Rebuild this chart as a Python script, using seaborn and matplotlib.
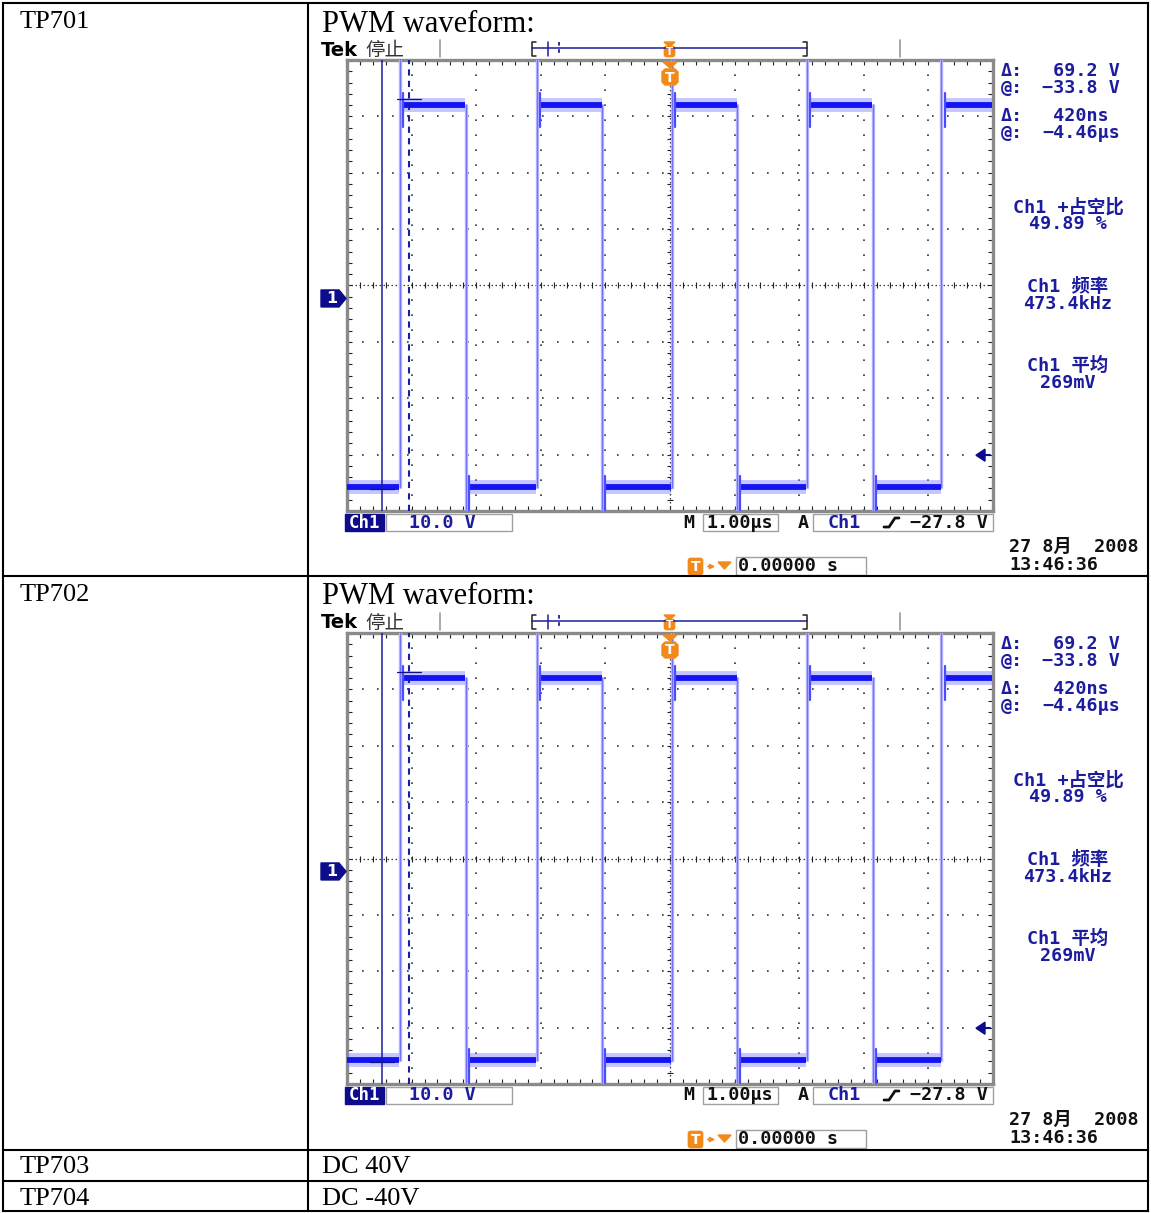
import numpy as np
import pandas as pd
import matplotlib
matplotlib.use("Agg")
import matplotlib.pyplot as plt
import matplotlib.transforms as mtransforms
from matplotlib.patches import Polygon, Rectangle, FancyBboxPatch
import seaborn as sns

W, H = 1151, 1213

# ---------------- data ----------------
row_labels = ["TP701", "TP702", "TP703", "TP704"]
row_values = ["PWM waveform:", "PWM waveform:", "DC 40V", "DC -40V"]

rise_times_us = [-4.18, -2.06, 0.03, 2.12, 4.20]
fall_times_us = [-3.16, -1.05, 1.04, 3.14]
high_level_v = 34.4
low_level_v = -33.5
rise_overshoot_v = 46.0
fall_undershoot_v = -40.0
ring_after_rise_v = [36.5, 30.5]
ring_after_fall_v = [-31.5, -37.5]

cursor_t_us = [-4.46, -4.04]
cursor_v = [-33.8, 35.4]
trigger_level_v = -27.8
trigger_t_us = 0.0
ground_v = 0.0

screen_t_us = [-5.0, 5.0]
screen_v = [-37.7, 42.3]
volts_per_div = 10.0
us_per_div = 1.0

cursor_labels = ["Δ:", "@:", "Δ:", "@:"]
cursor_values = [" 69.2 V", "−33.8 V", " 420ns", "−4.46µs"]
measure_names = ["Ch1 +占空比", "Ch1 频率", "Ch1 平均"]
measure_values = ["49.89 %", "473.4kHz", "269mV"]
ch_label = "Ch1"
scale_label = "10.0 V"
time_label = "1.00µs"
trig_level_label = "−27.8 V"
trig_pos_label = "0.00000 s"
date_label = "27 8月  2008"
clock_label = "13:46:36"
status_labels = ["Tek", "停止"]

# ---------------- style ----------------
sns.set_style("white")
plt.rcParams["font.family"] = ["DejaVu Sans", "Noto Sans CJK SC"]

NAVY = "#1c1c9e"
DARK = "#111111"
ORANGE = "#f28a1a"
BOXGRAY = "#a0a0a0"
MONO = ["DejaVu Sans Mono", "Noto Sans CJK SC"]
SERIF = ["Liberation Serif", "DejaVu Serif"]
FS = 13.2


def build_trace():
    events = sorted([(t, "rise") for t in rise_times_us] + [(t, "fall") for t in fall_times_us])
    events.append((screen_t_us[1], "end"))
    band, edge, ring = [], [], []
    seg = 0
    t_prev, level = screen_t_us[0], low_level_v
    settle = 0.05
    for t, kind in events:
        band += [(seg, t_prev, level), (seg, t - 0.01, level)]
        seg += 1
        if kind == "rise":
            edge += [(seg, t, low_level_v), (seg, t, rise_overshoot_v)]
            seg += 1
            ring += [(seg, t + settle, ring_after_rise_v[0]), (seg, t + settle, ring_after_rise_v[1])]
            seg += 1
            level = high_level_v
        elif kind == "fall":
            edge += [(seg, t, high_level_v), (seg, t, fall_undershoot_v)]
            seg += 1
            ring += [(seg, t + settle, ring_after_fall_v[0]), (seg, t + settle, ring_after_fall_v[1])]
            seg += 1
            level = low_level_v
        t_prev = t + settle
    cols = ["seg", "t", "v"]
    return (pd.DataFrame(band, columns=cols), pd.DataFrame(edge, columns=cols),
            pd.DataFrame(ring, columns=cols))


band_df, edge_df, ring_df = build_trace()

fig = plt.figure(figsize=(W / 100, H / 100), dpi=100)
ov = fig.add_axes([0, 0, 1, 1], zorder=10)
ov.set_xlim(0, W)
ov.set_ylim(H, 0)
ov.axis("off")

# ---------------- table ----------------
for y in [3, 576, 1150, 1181, 1211]:
    ov.plot([3, 1148], [y, y], color="black", lw=1.5, solid_capstyle="projecting")
for x in [3, 308, 1148]:
    ov.plot([x, x], [3, 1211], color="black", lw=1.5, solid_capstyle="projecting")

label_y = [22, 595, 1167, 1199]
value_y = [24, 597, 1167, 1199]
value_size = [22, 22, 19, 19]
for lab, val, ly, vy, vs in zip(row_labels, row_values, label_y, value_y, value_size):
    ov.text(20, ly, lab, family=SERIF, fontsize=19, va="center", ha="left", color="black")
    ov.text(322, vy, val, family=SERIF, fontsize=vs, va="center", ha="left", color="black")


def anchor(ax, x, y, xc="data", yc="data"):
    bt = mtransforms.blended_transform_factory(ax.transData if xc == "data" else ax.transAxes,
                                               ax.transData if yc == "data" else ax.transAxes)
    return mtransforms.Affine2D().scale(1, -1) + mtransforms.ScaledTranslation(x, y, bt)


def t_icon(x, y, w, h, fs):
    ov.add_patch(FancyBboxPatch((x, y), w, h, boxstyle="round,pad=0,rounding_size=2.5",
                                fc=ORANGE, ec=ORANGE, lw=0.5))
    ov.text(x + w / 2, y + h / 2 + 0.5, "T", color="white", fontsize=fs, fontweight="bold",
            ha="center", va="center", family="DejaVu Sans")


def mono(x, y, s, color, ha="left", weight="bold", size=FS):
    ov.text(x, y, s, family=MONO, fontsize=size, color=color, va="center", ha=ha,
            fontweight=weight)


def draw_scope(dy):
    left, right, top, bottom = 347, 993, 60 + dy, 511 + dy
    ax = fig.add_axes([left / W, 1 - bottom / H, (right - left) / W, (bottom - top) / H], zorder=5)
    ax.set_xlim(*screen_t_us)
    ax.set_ylim(*screen_v)
    ax.set_facecolor("white")

    center_v = (screen_v[0] + screen_v[1]) / 2
    center_t = (screen_t_us[0] + screen_t_us[1]) / 2
    div_t = np.arange(screen_t_us[0] + us_per_div, screen_t_us[1] - 1e-9, us_per_div)
    div_v = center_v + volts_per_div * np.arange(-3, 4)
    for t in div_t:
        if abs(t - center_t) < 1e-9:
            ax.axvline(t, color="#333333", lw=0.9, ls=(0, (1.2, 2.0)), zorder=1)
        else:
            ax.axvline(t, color="#333333", lw=1.2, ls=(0, (1, 8.0)), zorder=1)
    for v in div_v:
        if abs(v - center_v) < 1e-9:
            ax.axhline(v, color="#333333", lw=0.9, ls=(0, (1.2, 2.0)), zorder=1)
        else:
            ax.axhline(v, color="#333333", lw=1.2, ls=(0, (1, 8.0)), zorder=1)
    minor_t = np.arange(screen_t_us[0], screen_t_us[1] + 1e-9, us_per_div / 5)
    minor_v = center_v + (volts_per_div / 5) * np.arange(-20, 21)
    ax.scatter(minor_t, np.full(len(minor_t), center_v), marker="|", s=16, color="#222222",
               linewidths=0.8, zorder=1)
    ax.scatter(np.full(len(minor_v), center_t), minor_v, marker="_", s=16, color="#222222",
               linewidths=0.8, zorder=1)

    # waveform
    sns.lineplot(data=band_df, x="t", y="v", units="seg", estimator=None, sort=False, ax=ax,
                 color="#8080ff", lw=10, alpha=0.45, legend=False, solid_capstyle="butt", zorder=3)
    sns.lineplot(data=edge_df, x="t", y="v", units="seg", estimator=None, sort=False, ax=ax,
                 color="#b0b0ff", lw=2.4, legend=False, zorder=3)
    sns.lineplot(data=edge_df, x="t", y="v", units="seg", estimator=None, sort=False, ax=ax,
                 color="#7070ff", lw=0.7, legend=False, zorder=3)
    sns.lineplot(data=band_df, x="t", y="v", units="seg", estimator=None, sort=False, ax=ax,
                 color="#1414f2", lw=4.2, legend=False, solid_capstyle="butt", zorder=4)
    sns.lineplot(data=ring_df, x="t", y="v", units="seg", estimator=None, sort=False, ax=ax,
                 color="#4c4cff", lw=1.6, legend=False, zorder=4)

    # cursors
    ax.axvline(cursor_t_us[0], color=NAVY, lw=1.1, zorder=5)
    ax.axvline(cursor_t_us[1], color=NAVY, lw=1.5, dashes=(3, 2.5), zorder=5)
    for t, v in zip(cursor_t_us, cursor_v):
        ax.plot([t - 0.18, t + 0.18], [v, v], color="#10108a", lw=0.9, zorder=6)

    ax.set_xticks(minor_t)
    ax.set_yticks(minor_v[(minor_v >= screen_v[0]) & (minor_v <= screen_v[1])])
    ax.tick_params(direction="in", length=3.5, width=0.8, color="#222222", top=True, right=True,
                   bottom=True, left=True, labelbottom=False, labelleft=False)
    ax.set_xlabel("")
    ax.set_ylabel("")
    for sp in ax.spines.values():
        sp.set_color("#8a8a8a")
        sp.set_linewidth(2.4)
        sp.set_visible(True)

    # ground marker
    tr = anchor(ax, 0, ground_v, "axes", "data")
    ax.add_patch(Polygon([(-26, -8.5), (-8, -8.5), (-1, 0), (-8, 8.5), (-26, 8.5)], closed=True,
                         fc="#0c0c8c", ec="#0c0c8c", transform=tr, clip_on=False, zorder=8))
    ax.text(-15, 0.5, "1", transform=tr, color="white", fontsize=11.5, fontweight="bold",
            ha="center", va="center", clip_on=False, zorder=9)
    # trigger level arrow
    tr = anchor(ax, 1, trigger_level_v, "axes", "data")
    ax.add_patch(Polygon([(-17, 0), (-8, -6), (-8, 6)], closed=True, fc="#0c0c8c", ec="#0c0c8c",
                         transform=tr, clip_on=False, zorder=8))
    ax.plot([-9, -3], [0, 0], color="#0c0c8c", lw=1.5, transform=tr, clip_on=False, zorder=8)
    # trigger position marker
    tr = anchor(ax, trigger_t_us, 1, "data", "axes")
    ax.add_patch(Polygon([(-7, 2), (7, 2), (0, 8)], closed=True, fc=ORANGE, ec=ORANGE,
                         transform=tr, clip_on=False, zorder=8))
    ax.add_patch(Polygon([(-8, 12), (-5, 9), (5, 9), (8, 12), (8, 22), (5, 25), (-5, 25), (-8, 22)],
                         closed=True, fc=ORANGE, ec=ORANGE, transform=tr, clip_on=False, zorder=8))
    ax.text(0, 17.5, "T", transform=tr, color="white", fontsize=10, fontweight="bold",
            ha="center", va="center", clip_on=False, zorder=9)

    # ---- top status bar ----
    ov.text(321, 50 + dy, status_labels[0], fontsize=14, fontweight="bold", va="center",
            ha="left", color="black", family="DejaVu Sans")
    ov.text(365, 50 + dy, status_labels[1], fontsize=14, va="center", ha="left",
            color="#333333", family="Noto Sans CJK SC")
    for x in [440, 900]:
        ov.plot([x, x], [40 + dy, 57 + dy], color="#9a9a9a", lw=1.2)
    ov.plot([532, 807], [48 + dy, 48 + dy], color=NAVY, lw=1.1)
    ov.plot([536, 532, 532, 536], [42 + dy, 42 + dy, 56 + dy, 56 + dy], color="#222222", lw=1.1)
    ov.plot([803, 807, 807, 803], [42 + dy, 42 + dy, 56 + dy, 56 + dy], color="#222222", lw=1.1)
    ov.plot([548, 548], [42 + dy, 56 + dy], color=NAVY, lw=1.1)
    ov.plot([559, 559], [42 + dy, 56 + dy], color=NAVY, lw=1.3, dashes=(2, 2))
    ov.add_patch(Polygon([(664, 42 + dy), (675, 42 + dy), (669.5, 47 + dy)], closed=True,
                         fc=ORANGE, ec=ORANGE))
    t_icon(664, 46 + dy, 11, 11, 7.5)

    # ---- right readouts ----
    for i, (lab, val) in enumerate(zip(cursor_labels, cursor_values)):
        yy = [71, 88, 116, 133][i] + dy
        mono(1001, yy, lab, NAVY)
        mono(1042, yy, val, NAVY)
    for name, val, yy in zip(measure_names, measure_values, [207, 287, 366]):
        mono(1068, yy + dy, name, NAVY, ha="center")
        mono(1068, yy + 17 + dy, val, NAVY, ha="center")

    # ---- bottom bar ----
    by = 514 + dy
    ov.add_patch(Rectangle((345, by), 39, 17, fc="#0c0c8c", ec="#0c0c8c"))
    mono(364.5, by + 8.5, ch_label, "white", ha="center", size=12.5)
    ov.add_patch(Rectangle((386, by), 126, 17, fc="none", ec=BOXGRAY, lw=1.0))
    mono(409, by + 8.5, scale_label, NAVY)
    mono(683, by + 8.5, "M", DARK)
    ov.add_patch(Rectangle((703, by), 75, 17, fc="none", ec=BOXGRAY, lw=1.0))
    mono(706, by + 8.5, time_label, DARK)
    mono(798, by + 8.5, "A", DARK)
    ov.add_patch(Rectangle((813, by), 180, 17, fc="none", ec=BOXGRAY, lw=1.0))
    mono(828, by + 8.5, ch_label, NAVY)
    ov.plot([884, 889, 895, 899], [by + 13, by + 13, by + 4, by + 4], color=DARK, lw=2.0)
    mono(910, by + 8.5, trig_level_label, DARK)

    sy = 557 + dy
    t_icon(688, sy + 1, 15, 17, 10)
    ov.annotate("", xy=(718, sy + 9.5), xytext=(705, sy + 9.5),
                arrowprops=dict(arrowstyle="-|>", color=ORANGE, lw=1.2, mutation_scale=7))
    ov.add_patch(Polygon([(718, sy + 5), (731, sy + 5), (724.5, sy + 12)], closed=True,
                         fc=ORANGE, ec=ORANGE))
    ov.add_patch(Rectangle((736, sy), 130, 18, fc="none", ec=BOXGRAY, lw=1.0))
    mono(738, sy + 9, trig_pos_label, DARK)
    mono(1009, 547 + dy, date_label, DARK)
    mono(1009, 565 + dy, clock_label, DARK)


for dy in [0, 573]:
    draw_scope(dy)

fig.savefig("out.png", dpi=100, facecolor="white")
